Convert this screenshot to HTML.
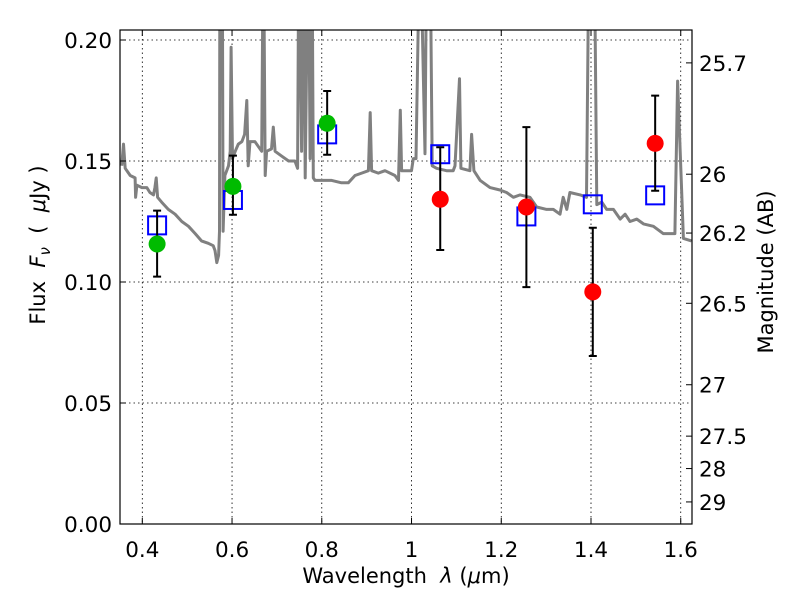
<!DOCTYPE html>
<html><head><meta charset="utf-8"><style>
body{margin:0;background:#fff}
svg{display:block;font-family:"DejaVu Sans","Liberation Sans",sans-serif}
</style></head><body>
<svg id="chart" width="800" height="600" viewBox="0 0 800 600" xmlns="http://www.w3.org/2000/svg">
<rect x="0" y="0" width="800" height="600" fill="#fff"/>
<defs><clipPath id="clip"><rect x="120" y="30" width="572" height="494"/></clipPath></defs>
<g id="grid"></g>
<g id="spec" clip-path="url(#clip)"></g>
<g id="marks" clip-path="url(#clip)"></g>
<rect x="120" y="30" width="572" height="494" fill="none" stroke="#000" stroke-width="1.2"/>
<g id="axes"></g>
<text x="406" y="583" font-size="21" text-anchor="middle" xml:space="preserve">Wavelength  <tspan font-style="italic">λ</tspan> (<tspan font-style="italic">μ</tspan>m)</text>
<text transform="translate(45,245) rotate(-90)" font-size="21" text-anchor="middle" xml:space="preserve">Flux  <tspan font-style="italic">F</tspan><tspan font-style="italic" font-size="15" dy="5">ν</tspan><tspan dy="-5">  (  </tspan><tspan font-style="italic">μ</tspan>Jy )</text>
<text transform="translate(773,272) rotate(-90)" font-size="21" text-anchor="middle">Magnitude (AB)</text>
</svg>
<script>
const specLam=[.354,.358,.362,.373,.384,.385,.388,.399,.410,.417,.425,.428,.431,.434,.443,.458,.473,.488,.503,.518,.532,.547,.558,.562,.566,.570,.572,.573,.578,.580,.584,.592,.596,.598,.601,.607,.614,.622,.628,.633,.636,.640,.651,.666,.670,.674,.677,.688,.692,.696,.711,.726,.740,.746,.749,.755,.759,.763,.770,.774,.778,.781,.785,.800,.822,.844,.859,.874,.889,.904,.908,.911,.926,.941,.963,.971,.975,.978,1.000,1.004,1.010,1.019,1.030,1.034,1.041,1.046,1.056,1.078,1.093,1.097,1.107,1.110,1.130,1.134,1.139,1.153,1.175,1.197,1.212,1.227,1.242,1.264,1.279,1.301,1.316,1.331,1.338,1.346,1.353,1.376,1.390,1.396,1.407,1.413,1.424,1.435,1.450,1.465,1.476,1.487,1.502,1.517,1.539,1.561,1.587,1.593,1.606,1.624];
const specFlux=[.148,.157,.147,.144,.143,.135,.140,.139,.139,.137,.136,.139,.143,.135,.133,.130,.128,.125,.123,.120,.117,.116,.115,.113,.108,.111,.121,.25,.25,.121,.144,.148,.154,.197,.151,.154,.157,.158,.161,.175,.148,.158,.158,.154,.25,.144,.154,.155,.164,.154,.152,.150,.150,.147,.25,.154,.25,.143,.25,.151,.25,.143,.142,.142,.142,.141,.141,.144,.145,.146,.170,.146,.145,.146,.144,.142,.171,.146,.146,.151,.151,.25,.153,.25,.25,.148,.147,.146,.146,.148,.184,.147,.146,.161,.146,.142,.139,.138,.137,.135,.136,.135,.131,.130,.130,.128,.135,.130,.137,.136,.135,.25,.25,.132,.133,.130,.130,.126,.128,.125,.126,.124,.123,.120,.120,.183,.118,.117];
const obsLam=[0.433,0.602,0.812,1.064,1.256,1.404,1.543];
const obsFlux=[0.1157,0.1395,0.1656,0.1342,0.1310,0.0959,0.1573];
const obsErrHi=[0.1295,0.1522,0.1789,0.1557,0.1640,0.1224,0.1770];
const obsErrLo=[0.1022,0.1278,0.1526,0.1132,0.0979,0.0694,0.1377];
const obsColor=['#00bb00','#00bb00','#00bb00','#ff0000','#ff0000','#ff0000','#ff0000'];
const modelFlux=[0.1234,0.1339,0.1610,0.1528,0.1271,0.1321,0.1358];
const xTicks=[0.4,0.6,0.8,1.0,1.2,1.4,1.6];
const xTickLabels=['0.4','0.6','0.8','1','1.2','1.4','1.6'];
const yTicks=[0,0.05,0.10,0.15,0.20];
const yTickLabels=['0.00','0.05','0.10','0.15','0.20'];
const magTicks=[25.7,26,26.2,26.5,27,27.5,28,29];
const magTickLabels=['25.7','26','26.2','26.5','27','27.5','28','29'];

const X0=142.3,XS=448.7,Y0=524,YS=2420;
const sx=l=>X0+(l-0.4)*XS;
const sy=f=>Y0-f*YS;
const magToFlux=m=>Math.pow(10,(23.9-m)/2.5);
const NS='http://www.w3.org/2000/svg';
function mk(tag,attrs,parent){const e=document.createElementNS(NS,tag);for(const k in attrs)e.setAttribute(k,attrs[k]);parent.appendChild(e);return e;}
const grid=document.getElementById('grid'),axes=document.getElementById('axes'),spec=document.getElementById('spec'),marks=document.getElementById('marks');

xTicks.forEach((t,i)=>{
  const x=sx(t);
  const g=mk('line',{x1:x,x2:x,y1:30,y2:524,stroke:'#000','stroke-width':0.8,'stroke-dasharray':'1.5,3'},grid);
  
  
  mk('line',{x1:x,x2:x,y1:524,y2:518,stroke:'#000'},axes);
  mk('line',{x1:x,x2:x,y1:30,y2:36,stroke:'#000'},axes);
  const tx=mk('text',{x:x,y:557,'font-size':21.5,'text-anchor':'middle'},axes);
  tx.textContent=xTickLabels[i];
  
  
});
yTicks.forEach((t,i)=>{
  const y=sy(t);
  const g=mk('line',{x1:120,x2:692,y1:y,y2:y,stroke:'#000','stroke-width':0.8,'stroke-dasharray':'1.5,3'},grid);
  
  
  mk('line',{x1:120,x2:126,y1:y,y2:y,stroke:'#000'},axes);
  const tx=mk('text',{x:112,y:y+8,'font-size':21.5,'text-anchor':'end'},axes);
  tx.textContent=yTickLabels[i];
  
  
});
magTicks.forEach((m,i)=>{
  const y=sy(magToFlux(m));
  mk('line',{x1:692,x2:686,y1:y,y2:y,stroke:'#000'},axes);
  const tx=mk('text',{x:699,y:y+8,'font-size':21.5},axes);
  tx.textContent=magTickLabels[i];
  
  
});

const d=specLam.map((l,i)=>(i?'L':'M')+sx(l).toFixed(1)+' '+sy(specFlux[i]).toFixed(1)).join(' ');
const sp=mk('path',{d:d,fill:'none',stroke:'#808080','stroke-width':3,'stroke-linejoin':'round'},spec);



obsLam.forEach((l,i)=>{
  const x=sx(l);
  const sq=mk('rect',{x:x-9,y:sy(modelFlux[i])-9,width:18,height:18,fill:'none',stroke:'#0000ff','stroke-width':2},marks);
  
  
  const eb=mk('path',{d:`M${x} ${sy(obsErrHi[i])}L${x} ${sy(obsErrLo[i])}M${x-4} ${sy(obsErrHi[i])}L${x+4} ${sy(obsErrHi[i])}M${x-4} ${sy(obsErrLo[i])}L${x+4} ${sy(obsErrLo[i])}`,stroke:'#000','stroke-width':2,fill:'none'},marks);
  
  
  const c=mk('circle',{cx:x,cy:sy(obsFlux[i]),r:8.5,fill:obsColor[i]},marks);
  
  
});
</script>
</body></html>
